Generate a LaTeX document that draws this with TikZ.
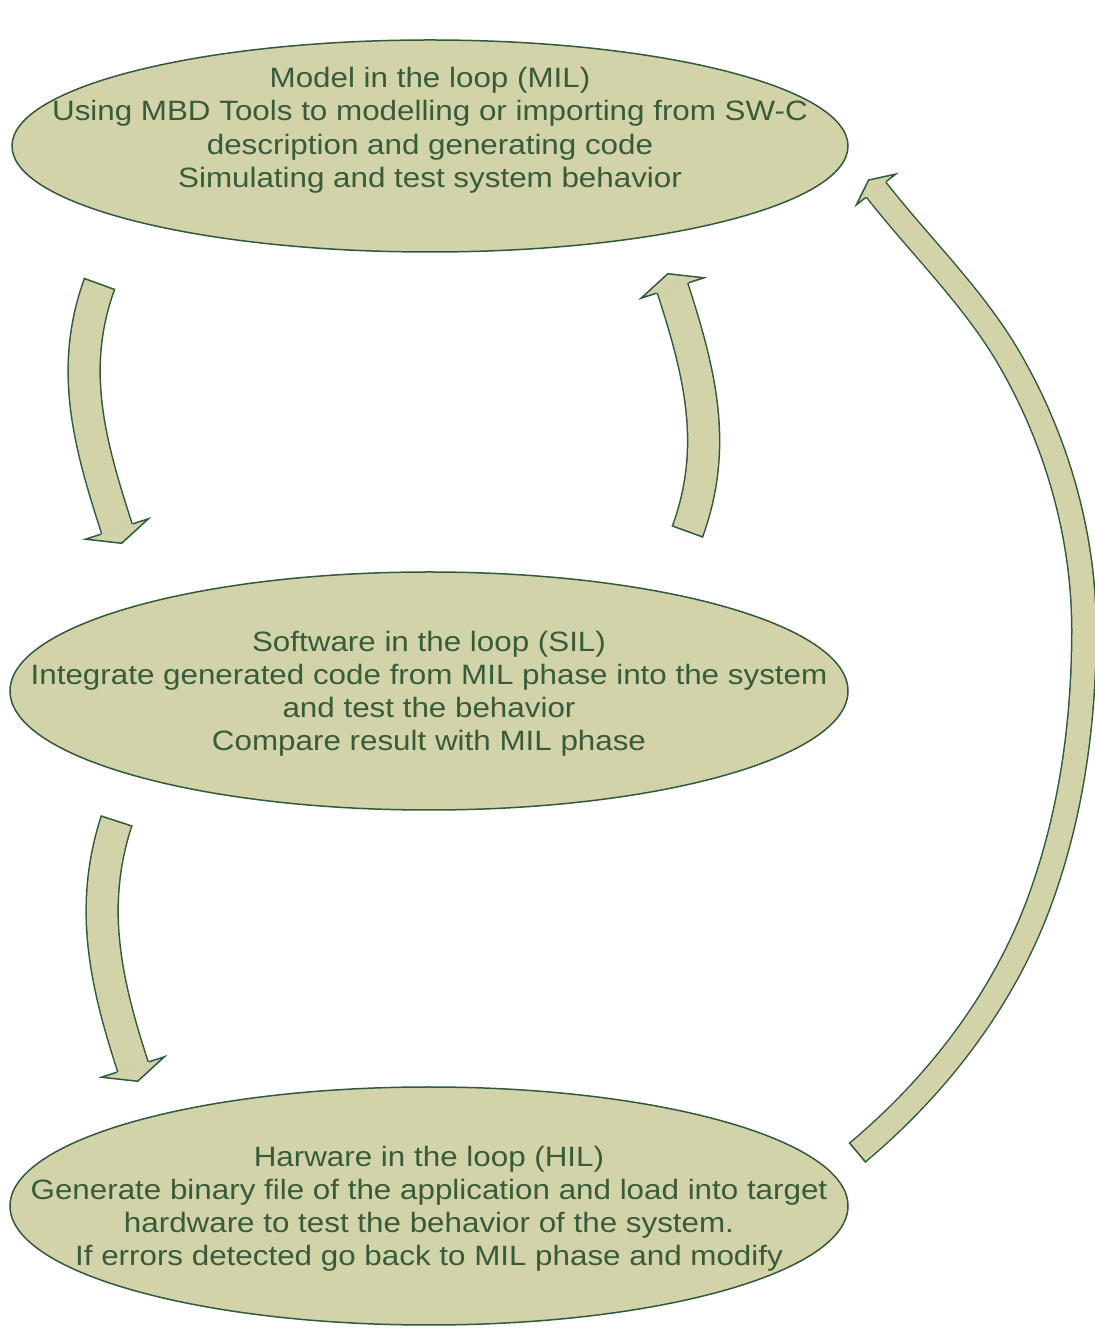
\documentclass[tikz,border=0pt]{standalone}
\usepackage{fontspec}
\setmainfont{Liberation Sans}[FakeStretch=1.12]
\usetikzlibrary{shapes.geometric,positioning}
\definecolor{phasefill}{RGB}{211,211,170}
\definecolor{phaseline}{RGB}{47,91,60}
\definecolor{phasetext}{RGB}{56,92,58}
\tikzset{%
  % Specifications for style of nodes:
           phase/.style = {ellipse, draw=phaseline, line width=0.75pt,
                           fill=phasefill, inner sep=-150pt,
                           minimum width=419pt, minimum height=119pt,
                           text=phasetext, align=center, text depth=0pt,
                           font=\fontsize{14pt}{16.6pt}\selectfont},
  % Specifications for the block arrows:
           shaft/.style = {draw=phaseline, line width=0.75pt,
                           double=phasefill, double distance=15.25pt},
        bigshaft/.style = {shaft, double distance=11.5pt},
         tailcap/.style = {draw=phaseline, line width=0.75pt},
       blockhead/.style = {draw=phaseline, fill=phasefill, line width=0.75pt},
}

\begin{document}
\begin{tikzpicture}[x=0.5pt, y=0.5pt, node distance=272.5pt]
  \useasboundingbox (0,0) rectangle (1095,1329);
  % Specification of nodes (position, etc.)

  \node (mil)		[phase, minimum width=418pt, minimum height=106pt] at (430,1183)
    {Model in the loop (MIL)\\Using MBD Tools to modelling or importing from SW-C\\
     description and generating code\\Simulating and test system behavior\\[2pt]~};
  \node (sil)		[phase, below of=mil, xshift=-0.5pt]
    {Software in the loop (SIL)\\Integrate generated code from MIL phase into the system\\
     and test the behavior\\Compare result with MIL phase};
  \node (hil)		[phase, below of=sil, yshift=15pt]
    {Harware in the loop (HIL)\\Generate binary file of the application and load into target\\
     hardware to test the behavior of the system.\\If errors detected go back to MIL phase and modify};

  % free ends of the block arrows
  \coordinate (ms-start)	at (99.5,1045);
  \coordinate (ms-end)		at (117,800);
  \coordinate (sm-start)	at (687.5,797.5);
  \coordinate (sm-end)		at (672.5,1041);
  \coordinate (sh-start)	at (116.5,508);
  \coordinate (sh-end)		at (133,262);
  \coordinate (hm-start)	at (857.5,176.5);
  \coordinate (hm-low)		at (1040,429);
  \coordinate (hm-right)	at (1084,699);
  \coordinate (hm-up)		at (1010,969);
  \coordinate (hm-end)		at (876,1139.5);

  % MIL -> SIL
  \draw[shaft]		(ms-start) .. controls +(250:90) and +(108:90) .. (ms-end);
  \draw[tailcap, shift={(ms-start)}, rotate=250]	(0,16.75) -- (0,-16.75);
  \filldraw[blockhead, shift={(ms-end)}, rotate=288]	(0,16.75) -- (0,33) -- (15,0) -- (0,-33) -- (0,-16.75);
  % SIL -> MIL
  \draw[shaft]		(sm-start) .. controls +(70:90) and +(-72:90) .. (sm-end);
  \draw[tailcap, shift={(sm-start)}, rotate=70]	(0,16.75) -- (0,-16.75);
  \filldraw[blockhead, shift={(sm-end)}, rotate=108]	(0,16.75) -- (0,33) -- (15,0) -- (0,-33) -- (0,-16.75);
  % SIL -> HIL
  \draw[shaft]		(sh-start) .. controls +(252:90) and +(108:90) .. (sh-end);
  \draw[tailcap, shift={(sh-start)}, rotate=252]	(0,16.75) -- (0,-16.75);
  \filldraw[blockhead, shift={(sh-end)}, rotate=288]	(0,16.75) -- (0,33) -- (15,0) -- (0,-33) -- (0,-16.75);
  % HIL -> MIL (back loop)
  \draw[bigshaft]	(hm-start) .. controls +(40:105) and +(250:105) .. (hm-low)
                    .. controls +(70:92) and +(270:92) .. (hm-right)
                    .. controls +(90:94) and +(300:94) .. (hm-up)
                    .. controls +(120:72) and +(308:72) .. (hm-end);
  \draw[tailcap, shift={(hm-start)}, rotate=40]	(0,13) -- (0,-13);
  \filldraw[blockhead, shift={(hm-end)}, rotate=128]	(0,13) -- (0,25) -- (12,0) -- (0,-25) -- (0,-13);

\end{tikzpicture}
\end{document}
